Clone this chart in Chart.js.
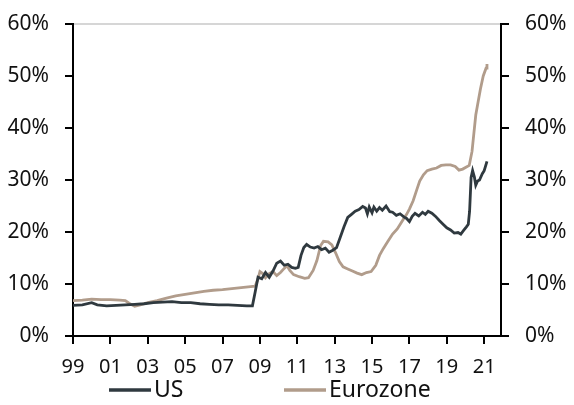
<!DOCTYPE html>
<html>
<head>
<meta charset="utf-8">
<script src="https://cdn.jsdelivr.net/npm/chart.js@4.4.1/dist/chart.umd.min.js"></script>
<style>
  html, body { margin: 0; padding: 0; background: #fff; }
</style>
</head>
<body>
<canvas id="chart" width="574" height="405"></canvas>
<script>
"use strict";

// 1: data (share in %, dates as decimal years)
const usDates = [1999.0, 1999.5, 2000.0, 2000.3, 2000.8, 2001.3, 2001.8, 2002.3, 2002.8, 2003.3,
  2003.8, 2004.3, 2004.8, 2005.3, 2005.8, 2006.3, 2006.8, 2007.3, 2007.8, 2008.3,
  2008.6, 2008.75, 2008.9, 2009.1, 2009.3, 2009.5, 2009.7, 2009.9, 2010.1, 2010.3,
  2010.5, 2010.7, 2010.9, 2011.05, 2011.2, 2011.35, 2011.5, 2011.7, 2011.9, 2012.1,
  2012.3, 2012.5, 2012.7, 2012.9, 2013.1, 2013.3, 2013.5, 2013.7, 2013.9, 2014.1,
  2014.3, 2014.5, 2014.65, 2014.75, 2014.85, 2015.0, 2015.1, 2015.25, 2015.4, 2015.55,
  2015.75, 2015.95, 2016.1, 2016.3, 2016.5, 2016.7, 2016.85, 2017.0, 2017.15, 2017.3,
  2017.5, 2017.7, 2017.85, 2018.0, 2018.2, 2018.4, 2018.6, 2018.8, 2019.0, 2019.2,
  2019.4, 2019.6, 2019.75, 2019.9, 2020.05, 2020.15, 2020.22, 2020.3, 2020.38, 2020.48,
  2020.55, 2020.65, 2020.75, 2020.9, 2021.0, 2021.15];
const usShare = [5.9, 6.0, 6.4, 6.0, 5.8, 5.9, 6.0, 6.1, 6.2, 6.4,
  6.5, 6.6, 6.4, 6.4, 6.2, 6.1, 6.0, 6.0, 5.9, 5.8,
  5.8, 8.5, 11.3, 11.0, 12.2, 11.3, 12.5, 14.0, 14.4, 13.6,
  13.8, 13.2, 13.0, 13.2, 15.5, 17.0, 17.6, 17.1, 16.9, 17.2,
  16.6, 16.9, 16.1, 16.5, 17.0, 19.0, 21.0, 22.8, 23.4, 24.0,
  24.3, 24.9, 24.6, 23.5, 24.8, 23.7, 24.8, 24.0, 24.7, 24.2,
  25.0, 23.9, 23.8, 23.2, 23.5, 22.9, 22.6, 22.0, 23.0, 23.6,
  23.1, 23.8, 23.4, 24.0, 23.6, 23.0, 22.2, 21.5, 20.8, 20.4,
  19.8, 19.9, 19.6, 20.3, 21.0, 21.5, 24.0, 30.5, 31.8, 30.5,
  29.0, 29.8, 30.0, 31.2, 31.8, 33.6];

const ezDates = [1999.0, 1999.5, 2000.0, 2000.5, 2001.0, 2001.5, 2001.8, 2002.0, 2002.3, 2002.6,
  2003.0, 2003.5, 2004.0, 2004.5, 2005.0, 2005.5, 2006.0, 2006.5, 2007.0, 2007.5,
  2008.0, 2008.5, 2008.75, 2008.9, 2009.0, 2009.15, 2009.3, 2009.5, 2009.7, 2009.9,
  2010.1, 2010.3, 2010.45, 2010.6, 2010.8, 2011.1, 2011.4, 2011.6, 2011.85, 2012.05,
  2012.25, 2012.4, 2012.65, 2012.85, 2013.05, 2013.25, 2013.45, 2013.7, 2013.95, 2014.2,
  2014.45, 2014.7, 2014.95, 2015.2, 2015.4, 2015.6, 2015.85, 2016.1, 2016.35, 2016.65,
  2016.85, 2017.0, 2017.2, 2017.4, 2017.55, 2017.75, 2017.95, 2018.2, 2018.45, 2018.7,
  2018.95, 2019.2, 2019.45, 2019.65, 2019.85, 2020.05, 2020.2, 2020.35, 2020.45, 2020.55,
  2020.65, 2020.8, 2020.95, 2021.1, 2021.15];
const ezShare = [6.8, 6.9, 7.1, 7.0, 7.0, 6.9, 6.8, 6.3, 5.7, 6.0,
  6.4, 6.8, 7.3, 7.7, 8.0, 8.3, 8.6, 8.8, 8.9, 9.1,
  9.3, 9.5, 9.6, 11.0, 12.4, 12.0, 11.2, 12.0, 12.4, 11.6,
  12.2, 13.0, 13.5, 12.6, 11.8, 11.4, 11.1, 11.2, 12.6, 14.5,
  17.4, 18.2, 18.1, 17.5, 16.0, 14.3, 13.3, 12.9, 12.5, 12.1,
  11.8, 12.2, 12.4, 13.6, 15.5, 16.8, 18.2, 19.6, 20.6, 22.3,
  23.4, 24.4, 26.0, 28.2, 29.8, 31.0, 31.8, 32.1, 32.3, 32.8,
  32.9, 32.9, 32.6, 31.9, 32.1, 32.5, 32.8, 35.5, 39.0, 42.5,
  44.5, 47.5, 50.0, 51.5, 52.3];

// 2: axis ticks
const xTickYears = [1999, 2001, 2003, 2005, 2007, 2009, 2011, 2013, 2015, 2017, 2019, 2021];
const yTickValues = [0, 10, 20, 30, 40, 50, 60];

const seriesNames = ['US', 'Eurozone'];
const seriesColors = ['#2f393f', '#b19c8b'];

// pairs of arrays -> {x, y} points for the linear x scale
function toPoints(dates, values) {
  return dates.map((d, i) => ({ x: d, y: values[i] }));
}

// legend drawn as a long line sample followed by the name
const lineLegend = {
  id: 'lineLegend',
  afterDraw(chart) {
    const ctx = chart.ctx;
    const starts = [109, 284];
    ctx.save();
    ctx.font = '23px "Noto Sans"';
    ctx.textBaseline = 'alphabetic';
    chart.data.datasets.forEach((ds, i) => {
      const x = starts[i];
      ctx.strokeStyle = ds.borderColor;
      ctx.lineWidth = 3.5;
      ctx.beginPath();
      ctx.moveTo(x, 390);
      ctx.lineTo(x + 42, 390);
      ctx.stroke();
      ctx.fillStyle = '#111';
      ctx.fillText(ds.label, x + 45, 397);
    });
    ctx.restore();
  }
};

// small lineHeight keeps the top label from pushing the plot area down
const yAxisCommon = {
  type: 'linear',
  min: 0,
  max: 60,
  afterBuildTicks: (scale) => { scale.ticks = yTickValues.map(v => ({ value: v })); },
  ticks: {
    color: '#111',
    font: { family: 'Noto Sans', size: 21, lineHeight: 0.7 },
    padding: 16,
    callback: (v) => v + '%'
  },
  border: { color: '#000', width: 2 },
  afterFit: (scale) => { scale.width = 73; }
};

new Chart(document.getElementById('chart'), {
  type: 'line',
  data: {
    datasets: [
      {
        label: seriesNames[0],
        data: toPoints(usDates, usShare),
        borderColor: seriesColors[0],
        borderWidth: 2.8,
        pointRadius: 0,
        tension: 0,
        yAxisID: 'y'
      },
      {
        label: seriesNames[1],
        data: toPoints(ezDates, ezShare),
        borderColor: seriesColors[1],
        borderWidth: 2.8,
        pointRadius: 0,
        tension: 0,
        yAxisID: 'y'
      }
    ]
  },
  options: {
    responsive: false,
    animation: false,
    layout: { padding: { top: 24, left: 0, right: 0, bottom: 0 } },
    plugins: {
      legend: { display: false },
      tooltip: { enabled: false }
    },
    scales: {
      x: {
        type: 'linear',
        min: 1999,
        max: 2021.9,
        afterBuildTicks: (scale) => { scale.ticks = xTickYears.map(v => ({ value: v })); },
        ticks: {
          color: '#111',
          font: { family: 'Noto Sans', size: 20 },
          padding: 11,
          maxRotation: 0,
          callback: (v) => String(v % 100).padStart(2, '0')
        },
        grid: { drawOnChartArea: false, tickLength: 8, tickColor: '#000', lineWidth: 2 },
        border: { color: '#000', width: 2 },
        afterFit: (scale) => { scale.height = 69; }
      },
      y: Object.assign({}, yAxisCommon, {
        position: 'left',
        grid: {
          tickLength: 8,
          tickColor: '#000',
          lineWidth: 2,
          color: (c) => (c.tick && c.tick.value === 60 ? '#d6d6d6' : 'rgba(0,0,0,0)')
        }
      }),
      y2: Object.assign({}, yAxisCommon, {
        position: 'right',
        grid: { drawOnChartArea: false, tickLength: 8, tickColor: '#000', lineWidth: 2 }
      })
    }
  },
  plugins: [lineLegend]
});
</script>
</body>
</html>
